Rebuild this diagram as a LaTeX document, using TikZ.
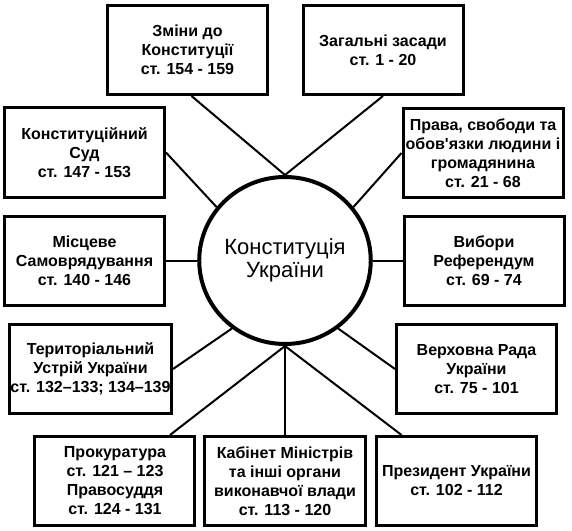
\documentclass[tikz,border=0pt]{standalone}
\usepackage{fontspec}
\setmainfont{Liberation Sans}[Ligatures=TeXOff]
\usetikzlibrary{positioning,shapes.geometric}

\begin{document}
\begin{tikzpicture}[
    node distance=100pt, on grid,
    box/.style={draw, line width=3pt, minimum width=160pt, minimum height=89pt,
      align=center, inner sep=1pt, font=\bfseries\fontsize{16}{19}\selectfont},
    hub/.style={ellipse, draw, line width=4pt, minimum width=158pt, minimum height=167pt,
      align=center, inner sep=0pt, font=\fontsize{22}{23}\selectfont},
    link/.style={line width=2pt}]
  \useasboundingbox (-285pt,-269.5pt) rectangle (287pt,260.5pt);
  % the Constitution in the middle, its sections all round it
  \node[hub] (const) {Конституція\\України};
  \node[box, above left=210.5pt and 97.5pt of const] (zminy) {Зміни до\\Конституції\\ст. 154 - 159};
  \node[box, above right=210.5pt and 98pt of const] (zasady) {Загальні засади\\ст. 1 - 20};
  \node[box, above left=108pt and 200.5pt of const] (sud) {Конституційний\\Суд\\ст. 147 - 153};
  \node[box, above right=107.5pt and 198pt of const] (prava) {Права, свободи та\\обов'язки людини і\\громадянина\\ст. 21 - 68};
  \node[box, left=200.5pt of const] (misceve) {Місцеве\\Самоврядування\\ст. 140 - 146};
  \node[box, right=199pt of const] (vybory) {Вибори\\Референдум\\ст. 69 - 74};
  \node[box, below left=108.5pt and 194.5pt of const] (ustrij) {Територіальний\\Устрій України\\ст. 132–133; 134–139};
  \node[box, below right=108.5pt and 191.5pt of const] (rada) {Верховна Рада\\України\\ст. 75 - 101};
  \node[box, below left=220.5pt and 170pt of const] (prokur) {Прокуратура\\ст. 121 – 123\\Правосуддя\\ст. 124 - 131};
  \node[box, below=220.5pt of const] (kabmin) {Кабінет Міністрів\\та інші органи\\виконавчої влади\\ст. 113 - 120};
  \node[box, below right=220.5pt and 171.5pt of const] (prezident) {Президент України\\ст. 102 - 112};
  \path[link]
    ([xshift=4pt]zminy.south) edge (const.north)
    (zasady.south) edge (const.north)
    (sud.east) edge (const.142)
    (prava.west) edge (const.38)
    (misceve.east) edge (const.west)
    (vybory.west) edge (const.east)
    (ustrij.east) edge (const.232)
    (rada.west) edge (const.308)
    ([xshift=55pt]prokur.north) edge (const.south)
    (kabmin.north) edge (const.south)
    ([xshift=-55pt]prezident.north) edge (const.south);
\end{tikzpicture}
\end{document}
